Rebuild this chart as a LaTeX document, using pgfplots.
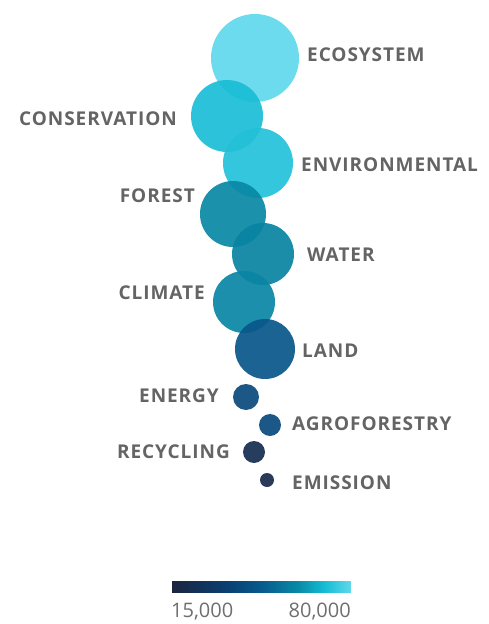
\documentclass[border=0pt]{standalone}
\usepackage{pgfplots}
\pgfplotsset{compat=1.18}
\usepackage{pgfplotstable}
\usepackage{fontspec}
\setmainfont{Open Sans}
\definecolor{lbl}{RGB}{100,100,100}
\definecolor{tk}{RGB}{110,110,110}

\pgfplotstableread{
x y r v
255 58 44 80000
227 116 36 71000
258 163 35 72000
233 214 33 60500
263 254 31 59000
244 302 31 60000
265 349 30 45500
246 397 13 39500
270 425 11 40000
254 452 11 21500
267 480 7 19500
}\bubbles

\begin{document}
\begin{tikzpicture}
\begin{axis}[
  scale only axis, width=489pt, height=624pt,
  xmin=0, xmax=489, ymin=0, ymax=624, y dir=reverse,
  hide axis, clip=false,
  colormap={bub}{rgb255(0)=(27,36,62) rgb255(3)=(10,62,112) rgb255(5)=(8,90,142) rgb255(7)=(8,136,165) rgb255(8.5)=(20,188,213) rgb255(10)=(96,216,235)},
  point meta min=15000, point meta max=80000,
  colorbar horizontal,
  colorbar style={
    at={(parent axis.south west)}, anchor=south west,
    xshift=171pt, yshift=40pt,
    scale only axis, width=180pt, height=11pt,
    xtick=\empty, ytick=\empty,
    axis line style={draw=none},
    after end axis/.code={
      \node[anchor=north west, inner sep=0pt, text=tk, font=\fontsize{20}{22}\selectfont] at (rel axis cs:0,0) [yshift=-10pt] {15,000};
      \node[anchor=north east, inner sep=0pt, text=tk, font=\fontsize{20}{22}\selectfont] at (rel axis cs:1,0) [yshift=-10pt] {80,000};
    },
  },
]
\addplot[scatter, only marks, mark=*, point meta=explicit,
  visualization depends on={\thisrow{r}\as\rad},
  scatter/@pre marker code/.append style={/tikz/mark size=\rad},
  fill opacity=0.92, draw opacity=0]
  table[x=x, y=y, meta=v] {\bubbles};

\tikzset{lab/.style={inner sep=0pt, text=lbl, font=\bfseries\fontsize{19}{21}\selectfont\addfontfeatures{LetterSpace=5}}}
\node[lab, anchor=west] at (axis cs:307,54.5) {ECOSYSTEM};
\node[lab, anchor=east] at (axis cs:177,118.5) {CONSERVATION};
\node[lab, anchor=west] at (axis cs:301,165) {ENVIRONMENTAL};
\node[lab, anchor=east] at (axis cs:195,196) {FOREST};
\node[lab, anchor=west] at (axis cs:307,255) {WATER};
\node[lab, anchor=east] at (axis cs:205,293) {CLIMATE};
\node[lab, anchor=west] at (axis cs:302,351) {LAND};
\node[lab, anchor=east] at (axis cs:219,396) {ENERGY};
\node[lab, anchor=west] at (axis cs:292,424) {AGROFORESTRY};
\node[lab, anchor=east] at (axis cs:230,452) {RECYCLING};
\node[lab, anchor=west] at (axis cs:292,483) {EMISSION};
\end{axis}
\pgfresetboundingbox
\path[use as bounding box] (0,0) rectangle (489pt,624pt);
\end{tikzpicture}
\end{document}
